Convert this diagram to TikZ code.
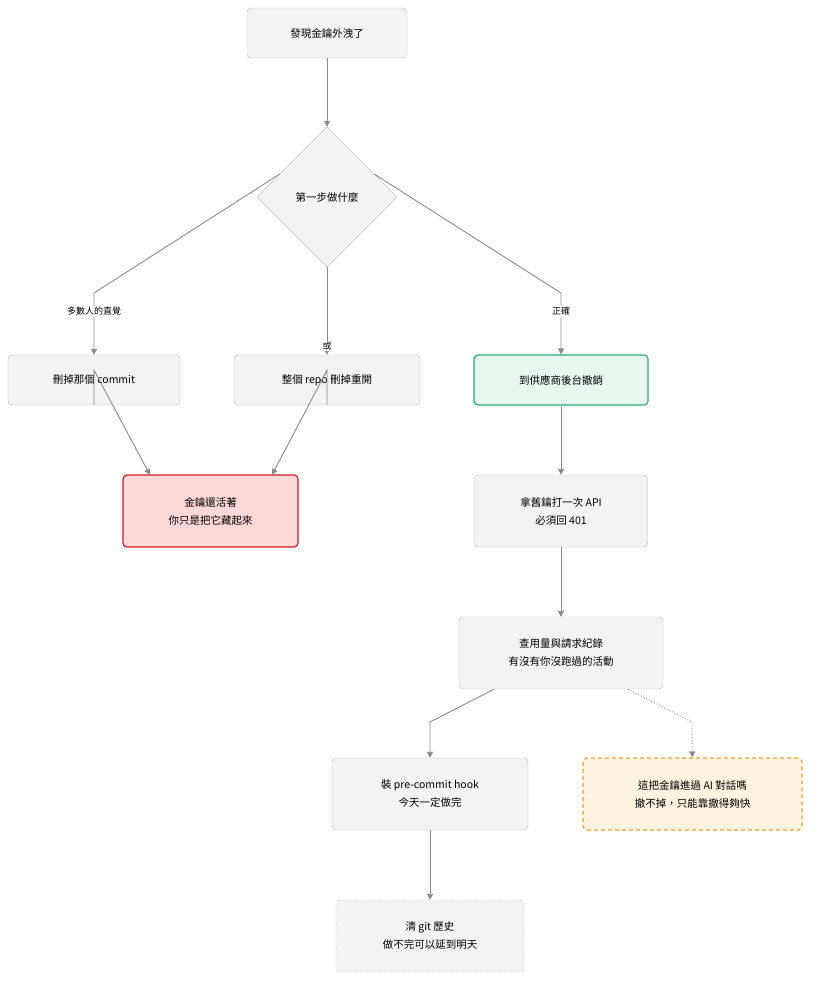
\documentclass[tikz,border=0pt]{standalone}
\usepackage{fontspec}
\setmainfont{Noto Sans CJK TC}
\usetikzlibrary{positioning}
\usetikzlibrary{shapes.geometric}
\usetikzlibrary{arrows.meta}

\definecolor{boxfill}{HTML}{F3F3F3}
\definecolor{boxline}{HTML}{B8B8BC}
\definecolor{edge}{HTML}{8A8A90}
\definecolor{goodfill}{HTML}{E8F6EE}
\definecolor{goodline}{HTML}{2EAA74}
\definecolor{badfill}{HTML}{FDD8D8}
\definecolor{badline}{HTML}{D01C1C}
\definecolor{warnfill}{HTML}{FEF3E0}
\definecolor{warnline}{HTML}{F0A030}

\tikzset{
  stepbox/.style={draw=boxline, fill=boxfill, rounded corners=4pt, align=center, font=\fontsize{10.5pt}{18pt}\selectfont, inner sep=0pt},
  good/.style={stepbox, draw=goodline, fill=goodfill, line width=1.2pt},
  bad/.style={stepbox, draw=badline, fill=badfill, line width=1.2pt},
  warn/.style={stepbox, draw=warnline, fill=warnfill, line width=1.2pt, dash pattern=on 4pt off 3pt},
  later/.style={stepbox, dashed},
  flow/.style={draw=edge, line width=0.9pt, -{Triangle[length=6pt,width=6pt]}},
  tag/.style={fill=white, font=\fontsize{9pt}{11pt}\selectfont, inner sep=1pt}
}

\begin{document}
\begin{tikzpicture}[x=1pt, y=-1pt]
\useasboundingbox (0,0) rectangle (818,989);

\node (leak) [stepbox, minimum width=160pt, minimum height=50pt] at (327,33) {發現金鑰外洩了};

\node (first) [diamond, draw=boxline, fill=boxfill, minimum width=140pt, minimum height=140pt, inner sep=0pt, font=\fontsize{10.5pt}{13pt}\selectfont] at (327,197) {第一步做什麼};

\node (dropcommit) [stepbox, minimum width=172pt, minimum height=50pt] at (94,380) {刪掉那個 commit};

\node (droprepo) [stepbox, minimum width=186pt, minimum height=50pt] at (327,380) {整個 repo 刪掉重開};

\node (revoke) [good, minimum width=174pt, minimum height=50pt] at (561,380) {到供應商後台撤銷};

\node (alive) [bad, minimum width=175pt, minimum height=72pt] at (210.5,511) {金鑰還活著\\你只是把它藏起來};

\node (check) [stepbox, minimum width=173pt, minimum height=72pt] at (561,511) {拿舊鑰打一次 API\\必須回 401};

\node (usage) [stepbox, minimum width=204pt, minimum height=72pt] at (561,653) {查用量與請求紀錄\\有沒有你沒跑過的活動};

\node (hook) [stepbox, minimum width=196pt, minimum height=72pt] at (430,794) {裝 pre-commit hook\\今天一定做完};

\node (aichat) [warn, minimum width=219pt, minimum height=72pt] at (692.5,794) {這把金鑰進過 AI 對話嗎\\撤不掉，只能靠撤得夠快};

\node (history) [later, minimum width=188pt, minimum height=72pt] at (430,936) {清 git 歷史\\做不完可以延到明天};

\coordinate (cleft) at (94,293);
\coordinate (cright) at (561,293);
\coordinate (redleft) at (150,475);
\coordinate (redright) at (272,475);

\draw [flow] (leak) -- (first);
\draw [flow] ([shift={(23pt,23pt)}]first.west) -- (cleft) -- node[tag, pos=0.3] {多數人的直覺} (dropcommit);
\draw [flow] (first.south) -- node[tag, pos=0.9] {或} (droprepo);
\draw [flow] ([shift={(-23pt,23pt)}]first.east) -- (cright) -- node[tag, pos=0.3] {正確} (revoke);
\draw [flow] (dropcommit.south) -- ++(0,35pt) -- (redleft);
\draw [flow] (droprepo.south) -- ++(0,35pt) -- (redright);
\draw [flow] (revoke) -- (check);
\draw [flow] (check) -- (usage);
\draw [flow] ([xshift=-67pt]usage.south) -- (430,722) -- (hook);
\draw [flow, dotted] ([xshift=67pt]usage.south) -- (692,722) -- (aichat);
\draw [flow] (hook) -- (history);

\end{tikzpicture}
\end{document}
